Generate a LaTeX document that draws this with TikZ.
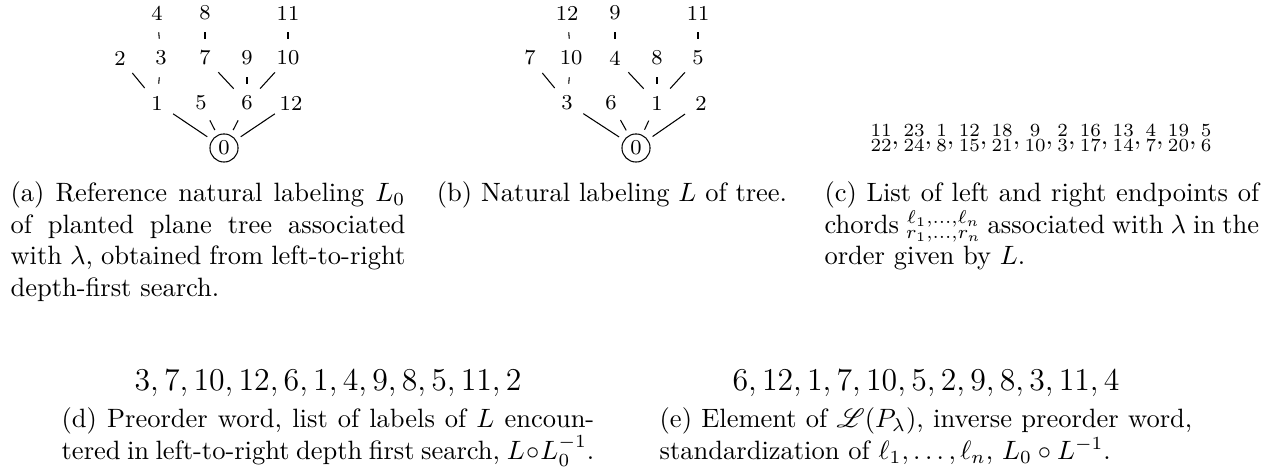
\documentclass[tikz,border=0pt]{standalone}
\usepackage{amsmath,mathrsfs}
\newcommand{\ch}[2]{\substack{#1\\#2}}
\begin{document}
\begin{tikzpicture}[x=0.37736pt,y=-0.37736pt,
  lab/.style={circle,inner sep=0pt,minimum size=14.3pt,font=\footnotesize},
  rootnode/.style={circle,draw,line width=0.4pt,inner sep=0pt,minimum size=10.6pt,outer sep=2.3pt,font=\footnotesize},
  edg/.style={line width=0.4pt},
  captext/.style={anchor=north west,inner sep=0pt,align=justify,font=\normalsize},
  wordtext/.style={inner sep=0pt,font=\large}
]
\useasboundingbox (0,0) rectangle (1273,471);
% tree (a)
\node[rootnode] (a0) at (224,148) {0};
\node[lab] (a1) at (157,103) {1};
\node[lab] (a5) at (201,103) {5};
\node[lab] (a6) at (247,103) {6};
\node[lab] (a12) at (291,103) {12};
\node[lab] (a2) at (120,58) {2};
\node[lab] (a3) at (161,58) {3};
\node[lab] (a7) at (205,58) {7};
\node[lab] (a9) at (247,58) {9};
\node[lab] (a10) at (288,58) {10};
\node[lab] (a4) at (157,13) {4};
\node[lab] (a8) at (205,13) {8};
\node[lab] (a11) at (288,13) {11};
\foreach \p/\c in {a0/a1,a0/a5,a0/a6,a0/a12,a1/a2,a1/a3,a3/a4,a6/a7,a6/a9,a6/a10,a7/a8,a10/a11}
  \draw[edg] (\p) -- (\c);
% tree (b)
\node[rootnode] (b0) at (636,148) {0};
\node[lab] (b3) at (567,103) {3};
\node[lab] (b6) at (611,103) {6};
\node[lab] (b1) at (657,103) {1};
\node[lab] (b2) at (701,103) {2};
\node[lab] (b7) at (530,58) {7};
\node[lab] (b10) at (571,58) {10};
\node[lab] (b4) at (615,58) {4};
\node[lab] (b8) at (657,58) {8};
\node[lab] (b5) at (698,58) {5};
\node[lab] (b12) at (567,13) {12};
\node[lab] (b9) at (615,13) {9};
\node[lab] (b11) at (698,13) {11};
\foreach \p/\c in {b0/b3,b0/b6,b0/b1,b0/b2,b3/b7,b3/b10,b10/b12,b1/b4,b1/b8,b1/b5,b4/b9,b5/b11}
  \draw[edg] (\p) -- (\c);
% chords (c)
\node[inner sep=0pt] (chords) at (1041,138)
  {$\ch{11}{22},\ch{23}{24},\ch{1}{8},\ch{12}{15},\ch{18}{21},\ch{9}{10},\ch{2}{3},\ch{16}{17},\ch{13}{14},\ch{4}{7},\ch{19}{20},\ch{5}{6}$};
% captions
\node[captext,text width=149pt] (capa) at (10,181)
  {(a) Reference natural labeling $L_0$ of planted plane tree associated with $\lambda$, obtained from left-to-right depth-first search.};
\node[captext,anchor=north] (capb) at (612,181)
  {(b) Natural labeling $L$ of tree.};
\node[captext,text width=164pt] (capc) at (824,181)
  {(c) List of left and right endpoints of chords $\ch{\ell_1,\ldots,\ell_n}{r_1,\ldots,r_n}$ associated with $\lambda$ in the order given by $L$.};
% words
\node[wordtext] (wordd) at (328,383) {$3,7,10,12,6,1,4,9,8,5,11,2$};
\node[wordtext] (worde) at (926,383) {$6,12,1,7,10,5,2,9,8,3,11,4$};
\node[captext,text width=201pt,anchor=north] (capd) at (328,407)
  {(d) Preorder word, list of labels of $L$ encountered in left-to-right depth first search, $L\circ L_0^{-1}$.};
\node[captext,text width=201pt,anchor=north] (cape) at (926,407)
  {(e) Element of $\mathscr{L}(P_\lambda)$, inverse preorder word, standardization of $\ell_1,\ldots,\ell_n$, $L_0\circ L^{-1}$.};
\end{tikzpicture}
\end{document}
